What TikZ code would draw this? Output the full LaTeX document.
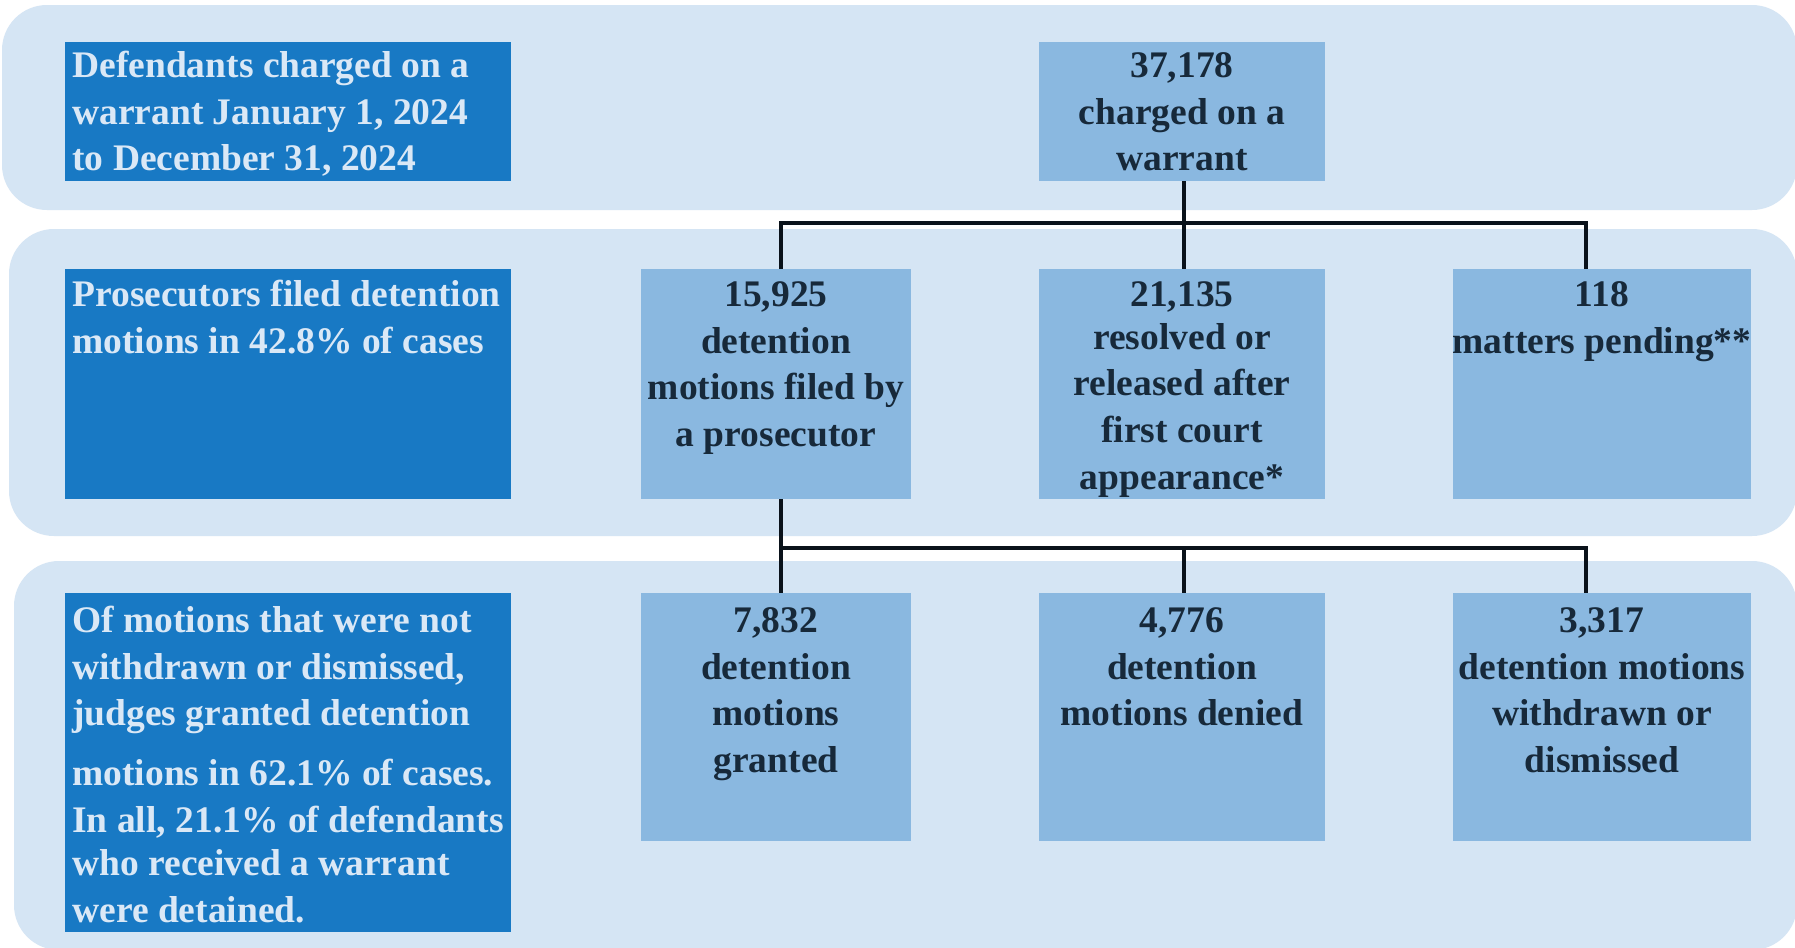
\documentclass[tikz,border=0pt]{standalone}
\usepackage{fontspec}
\setmainfont{Liberation Serif}
\definecolor{bandc}{HTML}{D5E5F4}
\definecolor{darkc}{HTML}{1879C4}
\definecolor{lightc}{HTML}{8AB8E0}
\definecolor{darktxt}{HTML}{17293A}
\definecolor{lighttxt}{HTML}{DAE8F6}
\definecolor{linec}{HTML}{0A121A}
\begin{document}
\begin{tikzpicture}[x=0.5pt,y=-0.5pt,
  band/.style={fill=bandc, rounded corners=22.5pt},
  darkbox/.style={fill=darkc, inner sep=0pt, outer sep=0pt, minimum width=223pt},
  lightbox/.style={fill=lightc, inner sep=0pt, outer sep=0pt},
  colA/.style={minimum width=135pt},
  colB/.style={minimum width=143pt},
  colC/.style={minimum width=149pt},
  txtD/.style={font=\bfseries\fontsize{18.75pt}{23.35pt}\selectfont, text=darktxt, align=center, inner sep=0pt, anchor=north},
  txtL/.style={font=\bfseries\fontsize{18.75pt}{23.35pt}\selectfont, text=lighttxt, align=left, inner sep=0pt, anchor=north west},
  conn/.style={draw=linec, line width=1.6pt}]
\useasboundingbox (0,0) rectangle (1795,948);
\fill[white] (0,0) rectangle (1795,948);
% bands
\fill[band] (2,5) rectangle (1797,210);
\fill[band] (9,229) rectangle (1797,536);
\fill[band] (14,561) rectangle (1797,950);
% row 1
\node[darkbox, minimum height=69.5pt] (L1) at (288,111.5) {};
\node[lightbox, colB, minimum height=69.5pt] (T) at (1182,111.5) {};
% row 2
\node[darkbox, minimum height=115pt] (L2) at (288,384) {};
\node[lightbox, colA, minimum height=115pt] (A2) at (776,384) {};
\node[lightbox, colB, minimum height=115pt] (B2) at (1182,384) {};
\node[lightbox, colC, minimum height=115pt] (C2) at (1602,384) {};
% row 3
\node[darkbox, minimum height=169.5pt] (L3) at (288,762.5) {};
\node[lightbox, colA, minimum height=124pt] (A3) at (776,717) {};
\node[lightbox, colB, minimum height=124pt] (B3) at (1182,717) {};
\node[lightbox, colC, minimum height=124pt] (C3) at (1602,717) {};
% texts
\node[txtL] (L1t) at ([xshift=3.5pt,yshift=-1.15pt]L1.north west) {\strut Defendants charged on a\\ warrant January 1, 2024\\ to December 31, 2024};
\node[txtD] (Tt) at ([yshift=-1.15pt]T.north) {\strut 37,178\\ charged on a\\ warrant};
\node[txtL] (L2t) at ([xshift=3.5pt,yshift=-2.15pt]L2.north west) {\strut Prosecutors filed detention\\ motions in 42.8\% of cases};
\node[txtD] (A2t) at ([yshift=-2.15pt]A2.north) {\strut 15,925\\ detention\\ motions filed by\\ a prosecutor};
\node[txtD] (B2t) at ([yshift=-2.15pt]B2.north) {\strut 21,135\\[-2pt] resolved or\\ released after\\ first court\\ appearance*};
\node[txtD] (C2t) at ([yshift=-2.15pt]C2.north) {\strut 118\\ matters pending**};
\node[txtL] (L3t) at ([xshift=3.5pt,yshift=-3.15pt]L3.north west) {\strut Of motions that were not\\ withdrawn or dismissed,\\ judges granted detention\\[6.65pt] motions in 62.1\% of cases.\\ In all, 21.1\% of defendants\\[-1.85pt] who received a warrant\\ were detained.};
\node[txtD] (A3t) at ([yshift=-3.15pt]A3.north) {\strut 7,832\\ detention\\ motions\\ granted};
\node[txtD] (B3t) at ([yshift=-3.15pt]B3.north) {\strut 4,776\\ detention\\ motions denied};
\node[txtD] (C3t) at ([yshift=-3.15pt]C3.north) {\strut 3,317\\ detention motions\\ withdrawn or\\ dismissed};
% connector anchor points
\coordinate (bus1) at (0,223);
\coordinate (bus2) at (0,548);
\coordinate (a2n) at ([xshift=2.5pt]A2.north);
\coordinate (a2s) at ([xshift=2.5pt]A2.south);
\coordinate (b2n) at ([xshift=1pt]B2.north);
\coordinate (c2n) at ([xshift=-8pt]C2.north);
\coordinate (a3n) at ([xshift=2.5pt]A3.north);
\coordinate (b3n) at ([xshift=1pt]B3.north);
\coordinate (c3n) at ([xshift=-8pt]C3.north);
% connectors
\draw[conn] ([xshift=1pt]T.south) -- (b2n);
\draw[conn] (a2n) -- (a2n |- bus1) -- (c2n |- bus1) -- (c2n);
\draw[conn] (a2s) -- (a3n);
\draw[conn] (a2s |- bus2) -- (c3n |- bus2) -- (c3n);
\draw[conn] (b3n |- bus2) -- (b3n);
\end{tikzpicture}
\end{document}
